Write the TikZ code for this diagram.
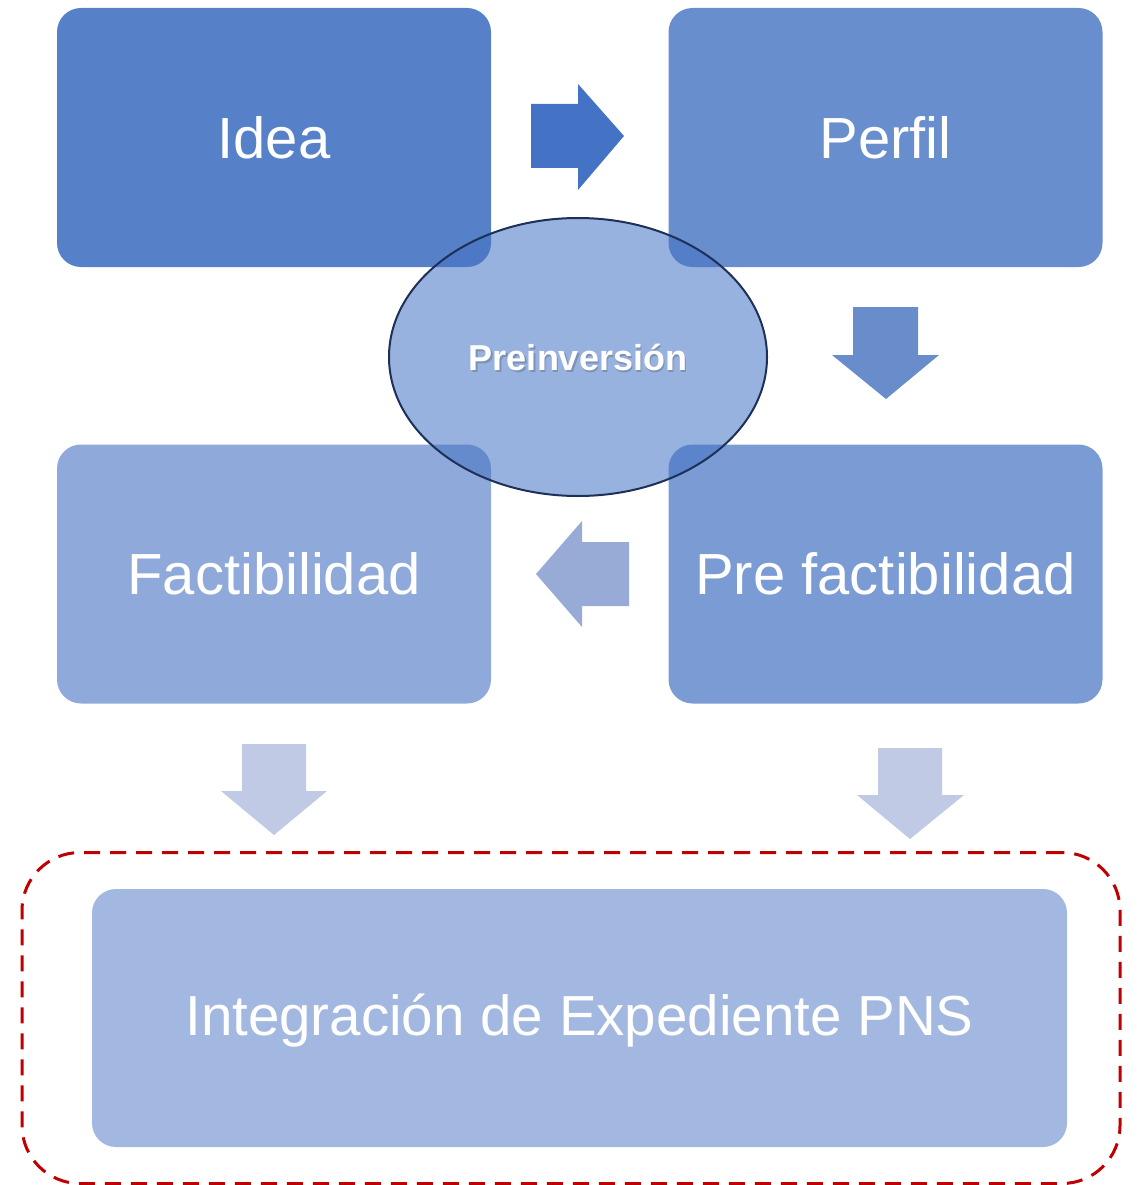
\documentclass[tikz,border=0pt]{standalone}
\usepackage{fontspec}
\setmainfont{Liberation Sans}
\usetikzlibrary{shapes.geometric}
\definecolor{cIdea}{RGB}{86,128,200}
\definecolor{cPerfil}{RGB}{104,142,206}
\definecolor{cPre}{RGB}{123,155,212}
\definecolor{cFact}{RGB}{143,170,218}
\definecolor{cInt}{RGB}{162,184,224}
\definecolor{cEll}{RGB}{68,114,196}
\definecolor{cEllLine}{RGB}{28,48,88}
\definecolor{cArrA}{RGB}{68,114,196}
\definecolor{cArrB}{RGB}{105,140,203}
\definecolor{cArrC}{RGB}{152,170,214}
\definecolor{cArrD}{RGB}{192,202,228}
\definecolor{cRed}{RGB}{192,0,0}
\tikzset{
  stagebox/.style={rectangle, rounded corners=24pt, inner sep=0pt, text=white,
    minimum width=434pt, minimum height=259pt,
    font=\fontsize{58}{60}\selectfont},
}
\begin{document}
\begin{tikzpicture}[x=1pt,y=-1pt]
\useasboundingbox (0,0) rectangle (1138,1185);
% stage boxes
\node[stagebox, fill=cIdea] (idea) at (274,137.5) {Idea};
\node[stagebox, fill=cPerfil] (perfil) at (885.5,137.5) {Perfil};
\node[stagebox, fill=cFact] (fact) at (274,574) {Factibilidad};
\node[stagebox, fill=cPre] (pref) at (885.5,574) {Pre factibilidad};
% integration box + dashed frame
\node[stagebox, fill=cInt, minimum width=975pt, minimum height=258pt,
  font=\fontsize{56.5}{58}\selectfont] (integ) at (579.5,1018) {};
\node[text=white, font=\fontsize{56.5}{58}\selectfont] (integtext) at (579.5,1021) {Integración de Expediente PNS};
\node[draw=cRed, line width=3pt, dash pattern=on 16pt off 10pt, rectangle,
  rounded corners=58pt, minimum width=1098pt, minimum height=331pt, inner sep=0pt]
  (frame) at (571,1018) {};
% block arrows
\fill[cArrA] (531,104) -- (578,104) -- (578,84) -- (624,136) -- (578,190) -- (578,168) -- (531,168) -- cycle;
\fill[cArrB] (853,307) -- (918,307) -- (918,355) -- (939,355) -- (886,399) -- (832,355) -- (853,355) -- cycle;
\fill[cArrC] (629,542) -- (582,542) -- (582,521) -- (536,574) -- (582,627) -- (582,606) -- (629,606) -- cycle;
\fill[cArrD] (242,744) -- (306,744) -- (306,791) -- (327,791) -- (274,835) -- (221,791) -- (242,791) -- cycle;
\fill[cArrD] (878,748) -- (942,748) -- (942,795) -- (964,795) -- (910,839) -- (857,795) -- (878,795) -- cycle;
% ellipse
\node[ellipse, fill=cEll, fill opacity=0.55, draw=cEllLine, draw opacity=1,
  line width=2pt, minimum width=378pt, minimum height=278pt, inner sep=0pt] (ell) at (578,357) {};
\node[text=black, opacity=0.18, font=\fontsize{36}{38}\selectfont\bfseries] (preshadow) at (579.5,359.5) {Preinversión};
\node[text=white, font=\fontsize{36}{38}\selectfont\bfseries] (pre) at (ell.center) {Preinversión};
\end{tikzpicture}
\end{document}
